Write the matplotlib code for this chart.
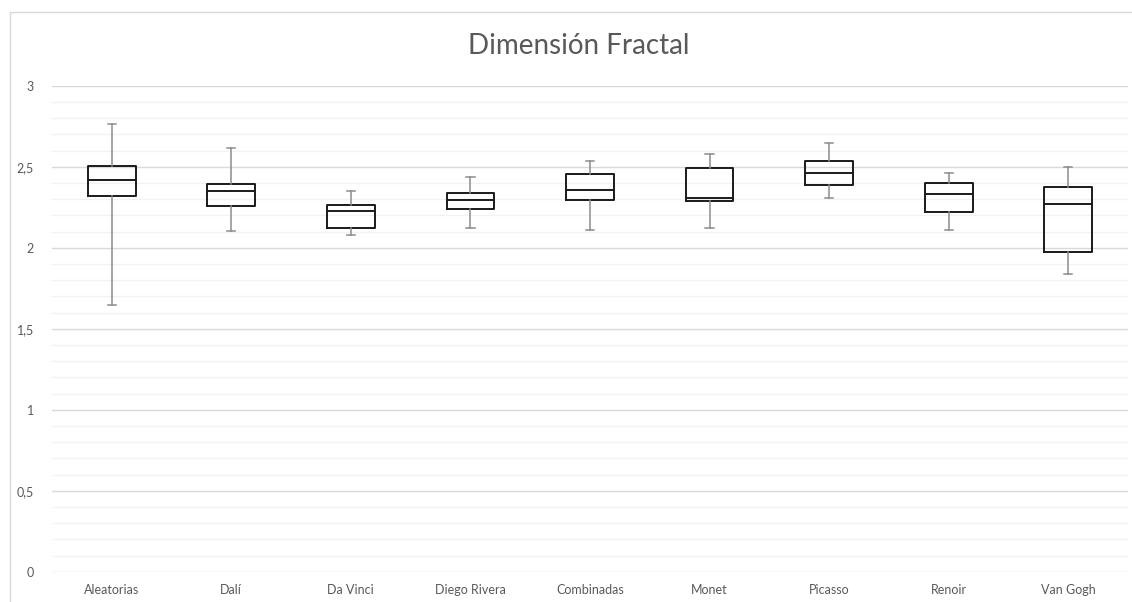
import matplotlib
matplotlib.use("Agg")
import matplotlib.pyplot as plt
from matplotlib.patches import Rectangle
from matplotlib.ticker import MultipleLocator, FuncFormatter

# five-number summaries per group
grupos = ["Aleatorias", "Dalí", "Da Vinci", "Diego Rivera", "Combinadas",
          "Monet", "Picasso", "Renoir", "Van Gogh"]
minimos = [1.648, 2.105, 2.080, 2.120, 2.111, 2.120, 2.309, 2.111, 1.838]
q1 = [2.317, 2.256, 2.122, 2.241, 2.294, 2.286, 2.385, 2.219, 1.973]
medianas = [2.418, 2.348, 2.226, 2.296, 2.356, 2.309, 2.463, 2.333, 2.272]
q3 = [2.506, 2.393, 2.264, 2.340, 2.455, 2.492, 2.537, 2.401, 2.377]
maximos = [2.765, 2.614, 2.348, 2.438, 2.537, 2.577, 2.644, 2.463, 2.498]

txt = "#595959"
plt.rcParams["font.family"] = ["Lato", "DejaVu Sans"]

fig = plt.figure(figsize=(11.32, 6.02), dpi=100)
ax = fig.add_axes([0.0459, 0.0503, 0.9506, 0.8073])

# chart frame
fig.patches.append(Rectangle((0.0086, -0.2), 1.2, 1.1806, transform=fig.transFigure,
                             fill=False, edgecolor="#d9d9d9", lw=1.0))

stats = []
for i, g in enumerate(grupos):
    stats.append(dict(label=g, whislo=minimos[i], q1=q1[i], med=medianas[i],
                      q3=q3[i], whishi=maximos[i], fliers=[]))

ax.bxp(stats, widths=0.40, showfliers=False,
       boxprops=dict(color="#1a1a1a", lw=1.4),
       medianprops=dict(color="#1a1a1a", lw=1.4),
       whiskerprops=dict(color="#8c8c8c", lw=1.1),
       capprops=dict(color="#8c8c8c", lw=1.1),
       capwidths=0.07)

ax.set_xlim(0.5, len(grupos) + 0.5)
ax.set_ylim(0, 3)
ax.yaxis.set_major_locator(MultipleLocator(0.5))
ax.yaxis.set_minor_locator(MultipleLocator(0.1))
ax.yaxis.set_major_formatter(FuncFormatter(lambda v, p: f"{v:g}".replace(".", ",")))
ax.grid(axis="y", which="major", color="#d9d9d9", lw=1.0)
ax.grid(axis="y", which="minor", color="#f2f2f2", lw=1.0)
ax.set_axisbelow(True)

for s in ["top", "right", "left", "bottom"]:
    ax.spines[s].set_visible(False)
ax.tick_params(axis="both", which="both", length=0, colors=txt, labelsize=9)
ax.tick_params(axis="y", pad=13)
ax.tick_params(axis="x", pad=9)

fig.text(0.511, 0.924, "Dimensión Fractal", ha="center", va="center",
         fontsize=20, color=txt, fontweight="normal")

fig.savefig("out.png", dpi=100)
